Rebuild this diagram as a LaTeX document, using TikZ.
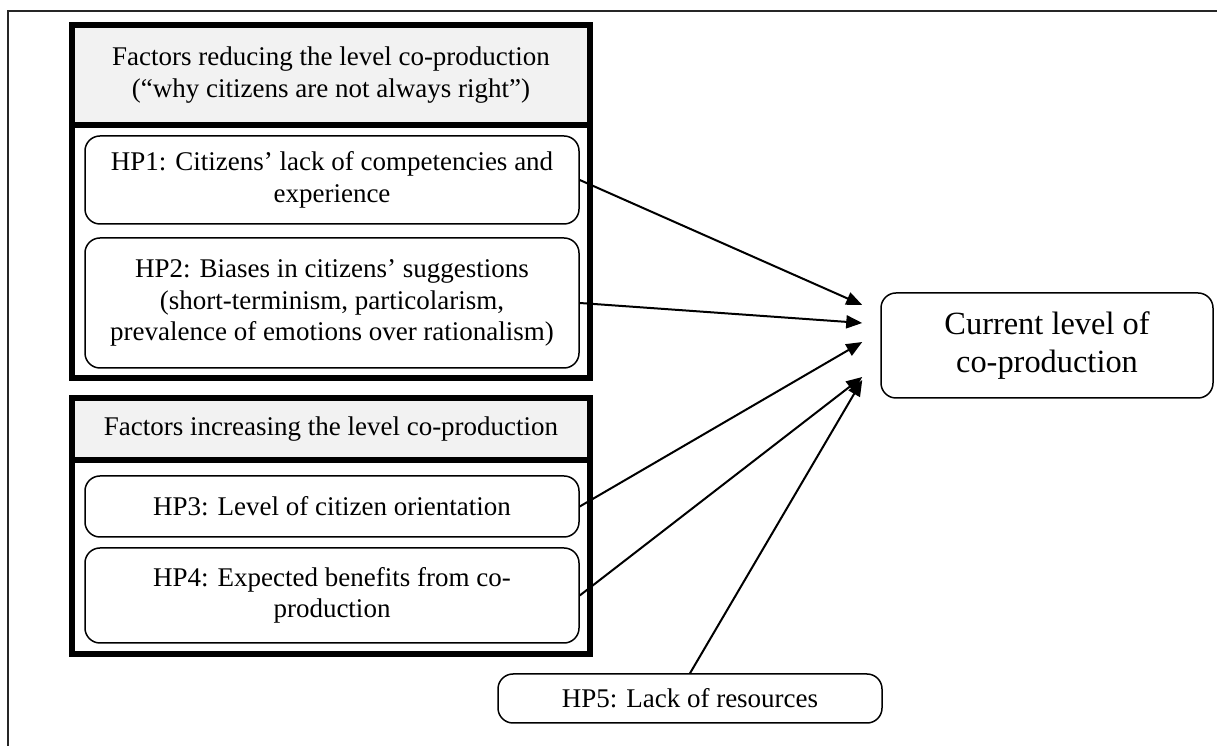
\documentclass[tikz,border=0pt]{standalone}
\usepackage{fontspec}
\setmainfont{Liberation Serif}
\usetikzlibrary{arrows.meta,calc}

\begin{document}
\begin{tikzpicture}[x=1pt, y=1pt,
    boxfont/.style={font=\fontsize{27}{31.7}\selectfont},
    hpbox/.style={draw, line width=1.5pt, rounded corners=15pt, align=center,
      inner sep=0pt, minimum width=494pt, boxfont},
    grpbox/.style={draw, line width=6pt, minimum width=518pt, inner sep=0pt},
    grphead/.style={grpbox, fill=black!5, align=center, boxfont},
    link/.style={-{Triangle[length=16pt, width=13pt]}, line width=2pt}]
  \useasboundingbox (0,0) rectangle (1217,746);

  % ── Outer frame ───────────────────────────────────────────
  \draw[line width=1.8pt, black!85] (8,0) -- (8,735) -- (1217,735);

  % ── Group (a): reducing factors ──────────────────────────
  \node[grpbox, minimum height=353pt] (grpA) at (331,544.5) {};
  \node[grphead, minimum height=100pt, anchor=north] (hdrA) at (grpA.north)
    {Factors reducing the level co-production\\(“why citizens are not always right”)};
  \node[hpbox, minimum height=88pt] (hp1) at (332,566)
    {HP1: Citizens’ lack of competencies and\\experience};
  \node[hpbox, minimum height=130pt] (hp2) at (332,443)
    {HP2: Biases in citizens’ suggestions\\(short-terminism, particolarism,\\prevalence of emotions over rationalism)};

  % ── Group (b): increasing factors ────────────────────────
  \node[grpbox, minimum height=256pt] (grpB) at (331,220) {};
  \node[grphead, minimum height=62pt, anchor=north] (hdrB) at (grpB.north)
    {Factors increasing the level co-production};
  \node[hpbox, minimum height=61pt] (hp3) at (332,239.5)
    {HP3: Level of citizen orientation};
  \node[hpbox, minimum height=95pt] (hp4) at (332,150.5)
    {HP4: Expected benefits from co-\\production};

  % ── Resources and outcome ────────────────────────────────
  \node[hpbox, minimum width=384pt, minimum height=49pt] (hp5) at (690,47.5)
    {HP5: Lack of resources};
  \node[hpbox, minimum width=332pt, minimum height=105pt,
        font=\fontsize{32.4}{37.7}\selectfont] (cur) at (1047,400.5)
    {Current level of\\co-production};

  % Arrow ends, fanned out left of the outcome box
  \coordinate (in1) at ($(cur.west)+(-18,40.5)$);
  \coordinate (in2) at ($(cur.west)+(-18,22.5)$);
  \coordinate (in3) at ($(cur.west)+(-18,3.5)$);
  \coordinate (in4) at ($(cur.west)+(-18,-31.5)$);
  \coordinate (in5) at ($(cur.west)+(-18,-34.5)$);

  \draw[link] (hp1.east) -- (in1);
  \draw[link] (hp2.east) -- (in2);
  \draw[link] (hp3.east) -- (in3);
  \draw[link] (hp4.east) -- (in4);
  \draw[link] (hp5.north) -- (in5);
\end{tikzpicture}
\end{document}
